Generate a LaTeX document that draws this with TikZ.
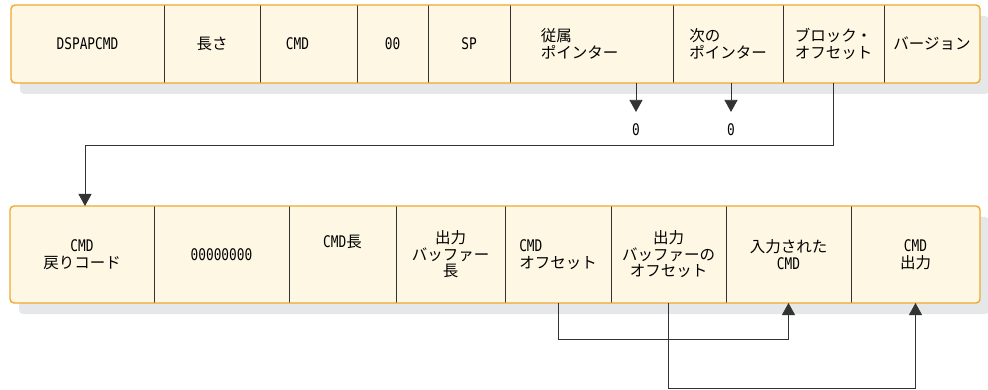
\documentclass[tikz,border=0pt]{standalone}
\usepackage{fontspec}
\setmainfont{Noto Sans CJK JP}
\newfontfamily\latn[FakeStretch=0.8]{DejaVu Sans Mono}
\newcommand{\mono}[1]{{\fontsize{16}{17}\latn #1}}
\newcommand{\jfont}{\fontsize{15.5}{16.5}\selectfont}
\usepackage{xcolor}
\definecolor{boxfill}{HTML}{FDF7E3}
\definecolor{boxedge}{HTML}{F0A830}
\definecolor{shade}{HTML}{E6E7E8}
\definecolor{ink}{HTML}{333333}
\usetikzlibrary{arrows.meta,positioning,backgrounds}
\tikzset{
  fld/.style={inner sep=0pt, outer sep=0pt, align=center, font=\jfont},
  toprow/.style={fld, minimum height=78pt},
  botrow/.style={fld, minimum height=97pt},
  frame/.style={draw=boxedge, line width=1.4pt, rounded corners=4pt},
  shadowbox/.style={fill=shade, rounded corners=4pt},
  divider/.style={draw=ink, line width=0.8pt},
  ar/.style={-{Triangle[length=12pt,width=13pt]}, draw=ink, line width=0.8pt},
  lbl/.style={font=\jfont, inner sep=0pt, outer sep=0pt},
}
\begin{document}
\begin{tikzpicture}[x=1pt, y=-1pt]
  \useasboundingbox (0,0) rectangle (988,390);
  % upper control block
  \node[toprow, minimum width=153pt, anchor=north west] (dsp) at (11,5) {\mono{DSPAPCMD}};
  \node[toprow, minimum width=96pt, right=0pt of dsp] (len) {長さ};
  \node[toprow, minimum width=97pt, right=0pt of len] (cmd) {\mono{CMD}\hspace*{22pt}};
  \node[toprow, minimum width=71pt, right=0pt of cmd] (zz) {\mono{00}};
  \node[toprow, minimum width=82pt, right=0pt of zz] (sp) {\mono{SP}};
  \node[toprow, minimum width=163pt, right=0pt of sp, align=left] (sub) {従属\\ポインター\hspace*{24pt}};
  \node[toprow, minimum width=110pt, right=0pt of sub, align=left] (nxt) {次の\\ポインター};
  \node[toprow, minimum width=101pt, right=0pt of nxt, align=left] (blk) {ブロック・\\オフセット};
  \node[toprow, minimum width=96pt, right=0pt of blk] (ver) {バージョン};
  % lower control block
  \node[botrow, minimum width=144pt, anchor=north west] (rc) at (10,206) {\mono{CMD}\\戻りコード};
  \node[botrow, minimum width=135pt, right=0pt of rc] (zeros) {\mono{00000000}};
  \node[botrow, minimum width=107pt, right=0pt of zeros] (clen) {\mono{CMD}長\\[10pt]};
  \node[botrow, minimum width=109pt, right=0pt of clen] (obl) {出力\\バッファー\\長};
  \node[botrow, minimum width=106pt, right=0pt of obl, align=left] (coff) {\mono{CMD}\\オフセット};
  \node[botrow, minimum width=115pt, right=0pt of coff] (oboff) {出力\\バッファーの\\オフセット};
  \node[botrow, minimum width=125pt, right=0pt of oboff] (icmd) {入力された\\\mono{CMD}};
  \node[botrow, minimum width=129pt, right=0pt of icmd] (cout) {\mono{CMD}\\出力};
  % frames and shadows
  \begin{scope}[on background layer]
    \fill[shadowbox] ([shift={(9pt,-11pt)}]dsp.north west) rectangle ([shift={(9pt,-11pt)}]ver.south east);
    \fill[boxfill, rounded corners=4pt] (dsp.north west) rectangle (ver.south east);
    \fill[shadowbox] ([shift={(9pt,-11pt)}]rc.north west) rectangle ([shift={(9pt,-11pt)}]cout.south east);
    \fill[boxfill, rounded corners=4pt] (rc.north west) rectangle (cout.south east);
  \end{scope}
  \foreach \f in {dsp,len,cmd,zz,sp,sub,nxt,blk}
    \draw[divider] (\f.north east) -- (\f.south east);
  \foreach \f in {rc,zeros,clen,obl,coff,oboff,icmd}
    \draw[divider] (\f.north east) -- (\f.south east);
  \draw[frame] (dsp.north west) rectangle (ver.south east);
  \draw[frame] (rc.north west) rectangle (cout.south east);
  % pointers
  \node[lbl] (zsub) at (636,130) {\mono{0}};
  \node[lbl] (znxt) at (731,130) {\mono{0}};
  \draw[ar, shorten >=12pt] (sub.south -| zsub) -- (zsub.north);
  \draw[ar, shorten >=12pt] (nxt.south -| znxt) -- (znxt.north);
  \draw[ar] (blk.south) -- ++(0,62) -| ([xshift=3pt]rc.north);
  \draw[ar] (coff.south) -- ++(0,36) -| (icmd.south);
  \draw[ar] (oboff.south) -- ++(0,85) -| (cout.south);
\end{tikzpicture}
\end{document}
